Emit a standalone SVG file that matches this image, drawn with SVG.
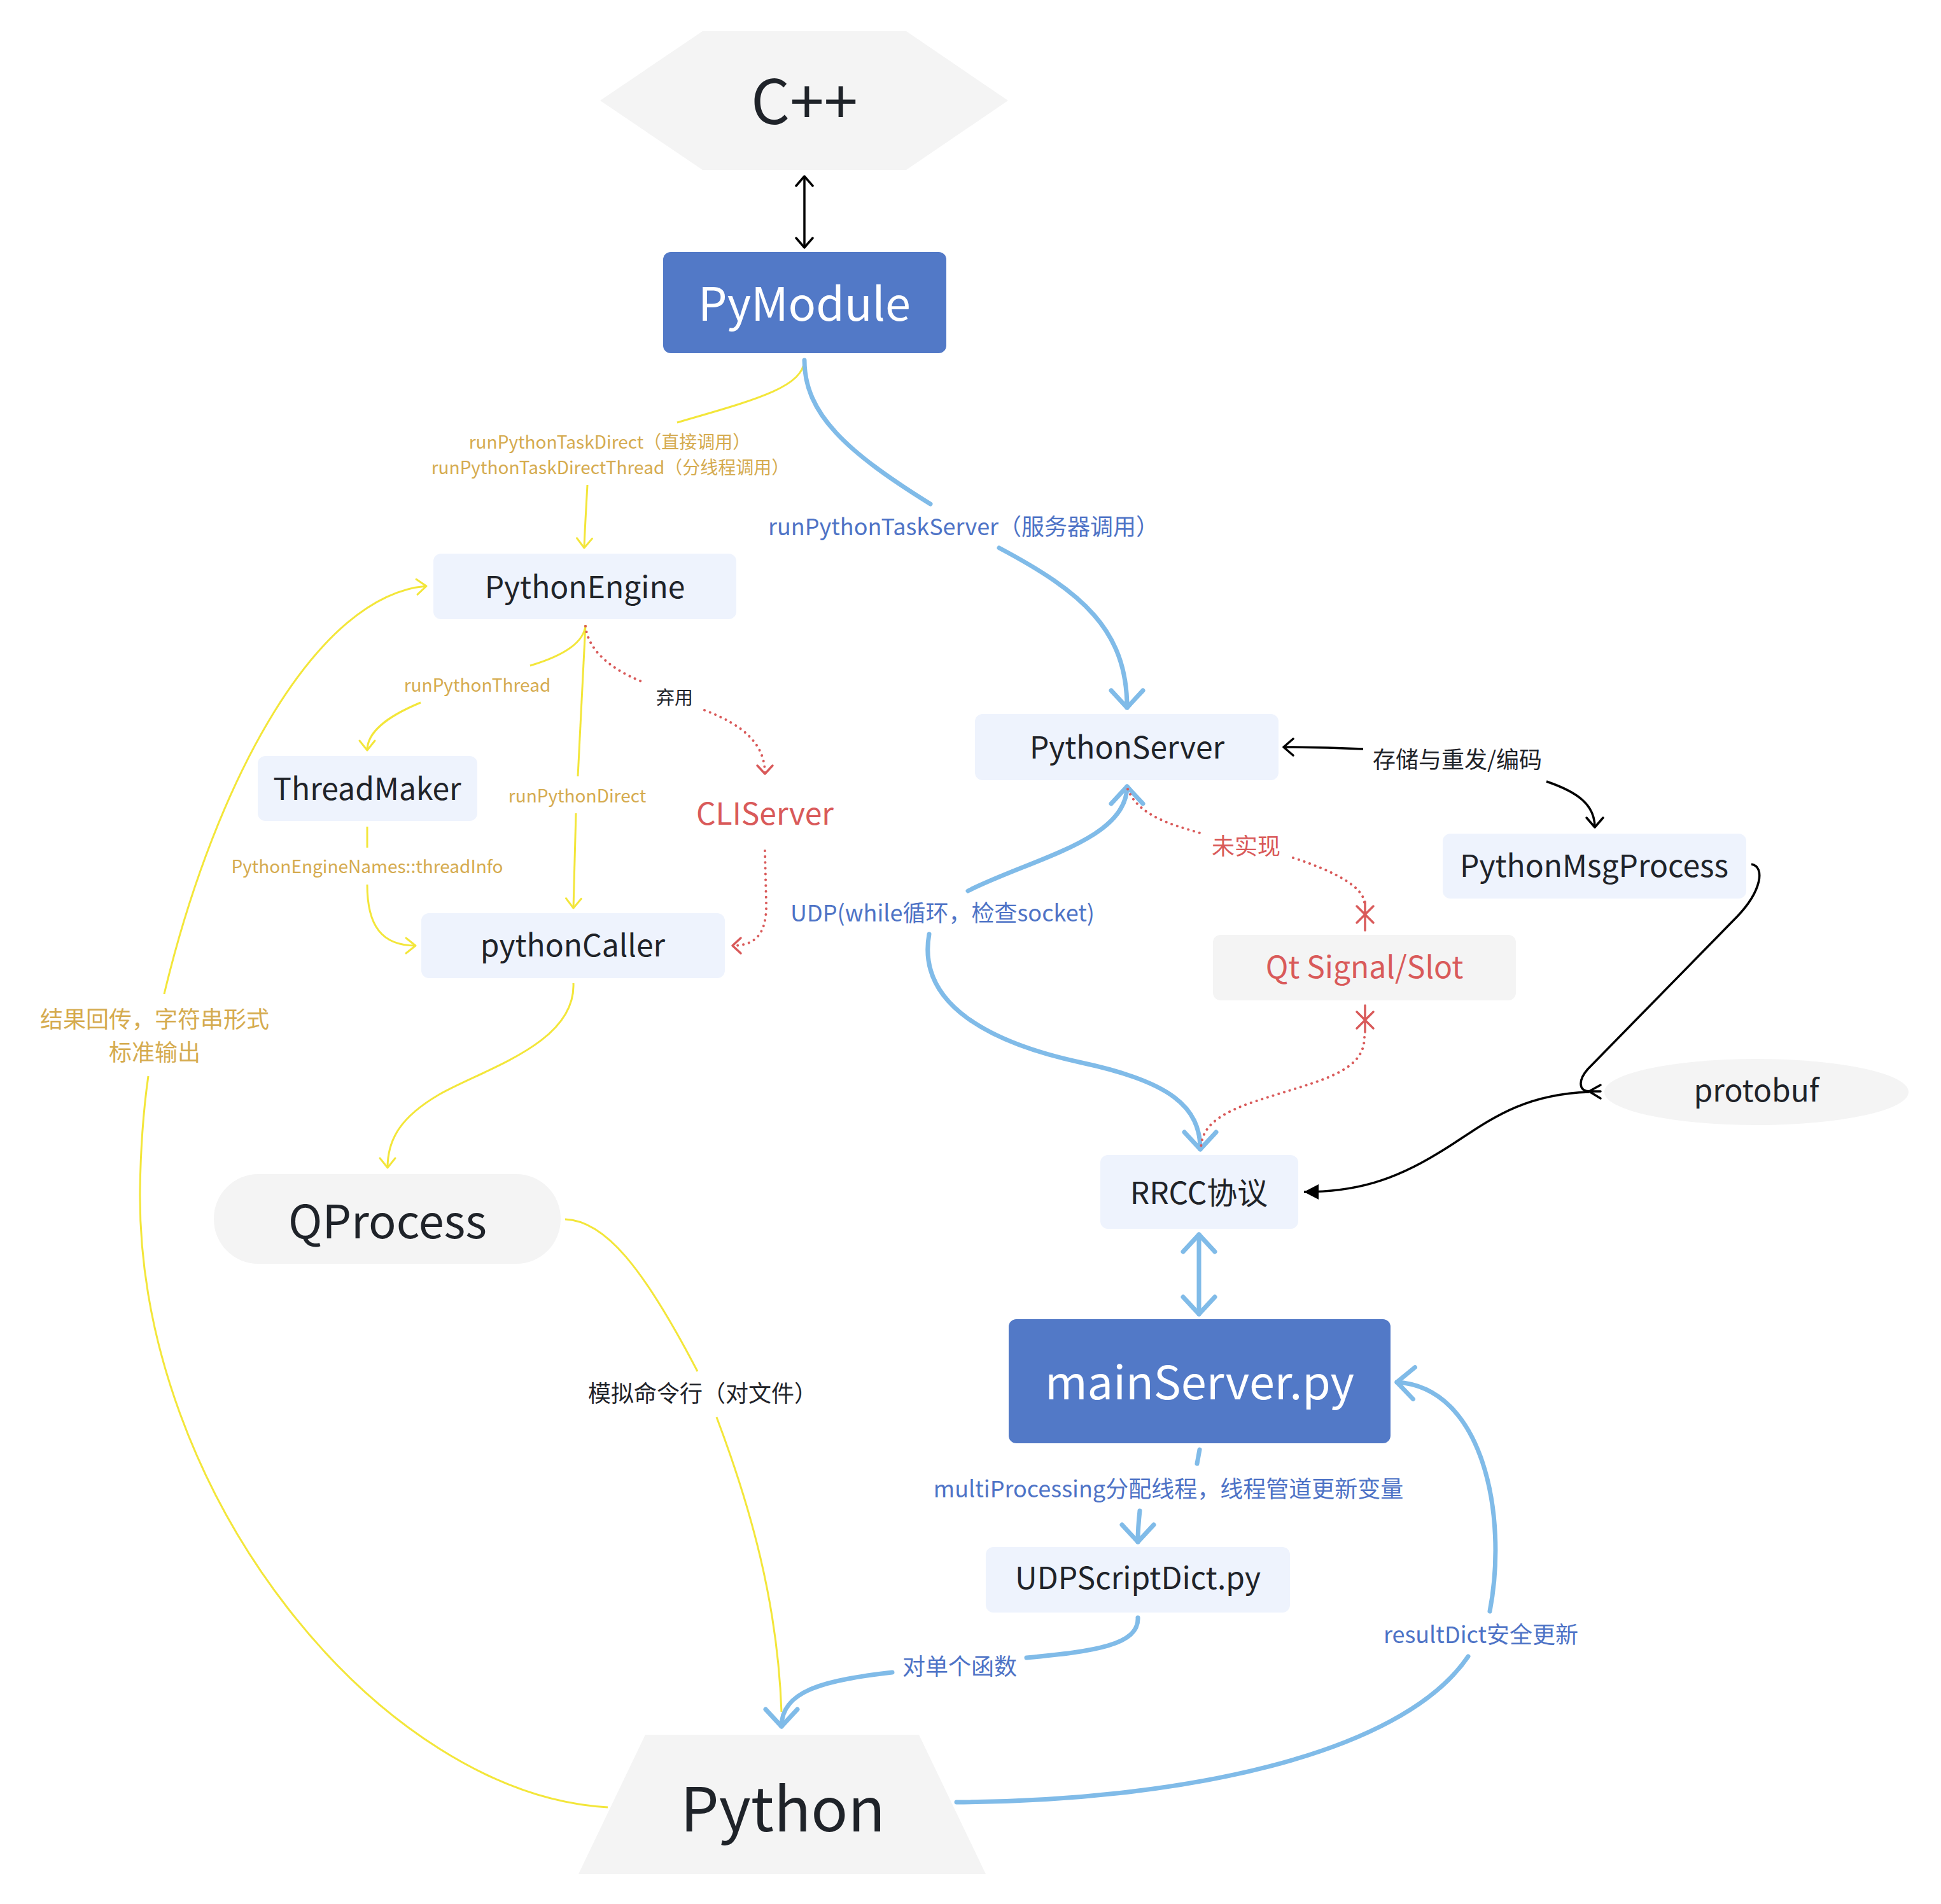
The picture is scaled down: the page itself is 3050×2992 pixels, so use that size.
<svg xmlns="http://www.w3.org/2000/svg" width="3050" height="2992" viewBox="0 0 3050 2992">
<style>
.t{font-family:"Noto Sans CJK SC","Noto Sans","Liberation Sans",sans-serif;text-anchor:middle}
.nl{fill:#eef3fd}
.nd{fill:#5279c7}
.ng{fill:#f4f4f4}
.tn{font-size:48px;fill:#1f2329}
.tw{font-size:72px;fill:#ffffff}
.tb{fill:#1f2329}
.gold{fill:#d5ab4f;font-size:28px}
.gold2{fill:#d5ab4f;font-size:36px}
.blu{fill:#4e73c6;font-size:36px}
.blk{fill:#1f2329}
.red{fill:#d95a5a}
.y{stroke:#f3e63a;stroke-width:3;fill:none}
.b{stroke:#80bbe8;stroke-width:7;fill:none;stroke-linecap:round}
.k{stroke:#000;stroke-width:3.5;fill:none}
.r{stroke:#d95a5a;stroke-width:4;fill:none;stroke-dasharray:0.1 9;stroke-linecap:round}
.rs{stroke:#d95a5a;stroke-width:3.5;fill:none;stroke-linecap:round}
</style>
<defs>
<marker id="ay" markerUnits="userSpaceOnUse" viewBox="-30 -30 60 60" markerWidth="60" markerHeight="60" refX="0" refY="0" orient="auto-start-reverse" overflow="visible"><path d="M-15,-12 L0,0 L-15,12" fill="none" stroke="#f3e63a" stroke-width="3" stroke-linecap="round" stroke-linejoin="round"/></marker>
<marker id="ab" markerUnits="userSpaceOnUse" viewBox="-40 -40 80 80" markerWidth="80" markerHeight="80" refX="0" refY="0" orient="auto-start-reverse" overflow="visible"><path d="M-27,-25 L0,0 L-27,25" fill="none" stroke="#80bbe8" stroke-width="7" stroke-linecap="round" stroke-linejoin="round"/></marker>
<marker id="ak" markerUnits="userSpaceOnUse" viewBox="-30 -30 60 60" markerWidth="60" markerHeight="60" refX="0" refY="0" orient="auto-start-reverse" overflow="visible"><path d="M-15,-13 L0,0 L-15,13" fill="none" stroke="#000" stroke-width="3.5" stroke-linecap="round" stroke-linejoin="round"/></marker>
<marker id="akf" markerUnits="userSpaceOnUse" viewBox="-30 -30 60 60" markerWidth="60" markerHeight="60" refX="0" refY="0" orient="auto" overflow="visible"><path d="M-23,-12 L0,0 L-23,12 Z" fill="#000"/></marker>
<marker id="ar" markerUnits="userSpaceOnUse" viewBox="-30 -30 60 60" markerWidth="60" markerHeight="60" refX="0" refY="0" orient="auto" overflow="visible"><path d="M-13,-12 L0,0 L-13,12" fill="none" stroke="#d95a5a" stroke-width="3.5" stroke-linecap="round" stroke-linejoin="round"/></marker>
</defs>
<rect width="3050" height="2992" fill="#ffffff"/>

<g id="connectors">
  <!-- C++ <-> PyModule -->
  <path class="k" d="M1264,277 L1264,389" marker-start="url(#ak)" marker-end="url(#ak)"/>
  <!-- PyModule -> PythonEngine -->
  <path class="y" d="M1264,566 C1262,610 1180,630 1064,664"/>
  <path class="y" d="M923,762 C921,800 919,830 918,861" marker-end="url(#ay)"/>
  <!-- PyModule -> PythonServer -->
  <path class="b" d="M1264,566 C1264,650 1330,710 1462,792"/>
  <path class="b" d="M1570,861 C1700,930 1771,990 1771,1112" marker-end="url(#ab)"/>
  <!-- PythonEngine -> ThreadMaker -->
  <path class="y" d="M920,982 C918,1012 880,1032 833,1046"/>
  <path class="y" d="M661,1104 C608,1126 577,1150 577,1179" marker-end="url(#ay)"/>
  <!-- PythonEngine -> pythonCaller -->
  <path class="y" d="M920,982 L908,1220"/>
  <path class="y" d="M905,1278 L901,1427" marker-end="url(#ay)"/>
  <!-- PythonEngine -> CLIServer -->
  <path class="r" d="M920,984 C925,1030 975,1058 1011,1072"/>
  <path class="r" d="M1107,1116 C1170,1140 1202,1170 1202,1216" marker-end="url(#ar)"/>
  <!-- ThreadMaker -> pythonCaller -->
  <path class="y" d="M577,1299 L577,1332"/>
  <path class="y" d="M577,1390 C577,1455 600,1486 653,1486" marker-end="url(#ay)"/>
  <!-- CLIServer -> pythonCaller -->
  <path class="r" d="M1202,1337 L1204,1420 C1205,1470 1185,1486 1151,1486" marker-end="url(#ar)"/>
  <!-- pythonCaller -> QProcess -->
  <path class="y" d="M901,1545 C905,1640 760,1680 690,1720 C630,1755 609,1790 609,1835" marker-end="url(#ay)"/>
  <!-- QProcess -> Python -->
  <path class="y" d="M888,1916 C950,1918 1010,1990 1096,2155"/>
  <path class="y" d="M1126,2227 C1180,2370 1222,2520 1228,2690"/>
  <!-- Python -> PythonEngine -->
  <path class="y" d="M955,2840 C600,2820 215,2350 220,1870 C221,1800 226,1740 233,1691"/>
  <path class="y" d="M258,1562 C340,1220 500,935 670,921" marker-end="url(#ay)"/>
  <!-- PythonServer <-> RRCC -->
  <path class="b" d="M1771,1236 C1771,1320 1620,1350 1521,1400" marker-start="url(#ab)"/>
  <path class="b" d="M1460,1468 C1440,1580 1560,1640 1700,1670 C1840,1700 1886,1740 1886,1806" marker-end="url(#ab)"/>
  <!-- PythonServer -> Qt Signal/Slot -->
  <path class="r" d="M1772,1240 C1790,1285 1850,1298 1889,1310"/>
  <path class="r" d="M2032,1348 C2100,1370 2144,1395 2144,1420"/>
  <path class="rs" d="M2145,1417 L2145,1462 M2132,1424 L2158,1450 M2158,1424 L2132,1450"/>
  <!-- Qt Signal/Slot -> RRCC -->
  <path class="rs" d="M2145,1580 L2145,1622 M2132,1590 L2158,1616 M2158,1590 L2132,1616"/>
  <path class="r" d="M2144,1630 C2144,1690 2060,1700 1960,1735 C1900,1757 1887,1780 1887,1808"/>
  <!-- PythonServer <-> PythonMsgProcess -->
  <path class="k" d="M2017,1174 C2060,1174 2100,1175 2142,1177" marker-start="url(#ak)"/>
  <path class="k" d="M2430,1228 C2480,1245 2506,1265 2506,1300" marker-end="url(#ak)"/>
  <!-- PythonMsgProcess -> protobuf -->
  <path class="k" d="M2752,1358 C2774,1362 2768,1400 2730,1440 L2495,1680 C2480,1697 2480,1714 2497,1715"/>
  <path class="k" d="M2515,1705 L2497,1715 L2515,1726 M2497,1715 L2515,1715" stroke-linecap="round" stroke-linejoin="round"/>
  <!-- protobuf -> RRCC -->
  <path class="k" d="M2497,1716 C2380,1720 2330,1770 2260,1812 C2190,1855 2130,1873 2049,1873" marker-end="url(#akf)"/>
  <!-- RRCC <-> mainServer -->
  <path class="b" d="M1884,1940 L1884,2065" marker-start="url(#ab)" marker-end="url(#ab)"/>
  <!-- mainServer -> UDPScriptDict -->
  <path class="b" d="M1885,2278 L1881,2300"/>
  <path class="b" d="M1791,2374 C1789,2392 1788,2405 1788,2423" marker-end="url(#ab)"/>
  <!-- UDPScriptDict -> Python -->
  <path class="b" d="M1788,2542 C1790,2585 1720,2595 1613,2605"/>
  <path class="b" d="M1402,2628 C1300,2640 1228,2655 1228,2713" marker-end="url(#ab)"/>
  <!-- Python -> mainServer -->
  <path class="b" d="M1503,2832 C1850,2830 2200,2760 2307,2603"/>
  <path class="b" d="M2341,2532 C2370,2380 2330,2180 2195,2172" marker-end="url(#ab)"/>

  <!-- labels -->
  <text class="t gold" x="958" y="705">runPythonTaskDirect（直接调用）</text>
  <text class="t gold" x="959" y="745">runPythonTaskDirectThread（分线程调用）</text>
  <text class="t blu" x="1514" y="841">runPythonTaskServer（服务器调用）</text>
  <text class="t gold" x="750" y="1087">runPythonThread</text>
  <text class="t gold" x="907" y="1261">runPythonDirect</text>
  <text class="t blk" x="1060" y="1107" font-size="29">弃用</text>
  <text class="t gold" x="577" y="1372">PythonEngineNames::threadInfo</text>
  <text class="t gold2" x="243" y="1615">结果回传，字符串形式</text>
  <text class="t gold2" x="243" y="1667">标准输出</text>
  <text class="t blk" x="1104" y="2203" font-size="36">模拟命令行（对文件）</text>
  <text class="t blu" x="1481" y="1448">UDP(while循环，检查socket)</text>
  <text class="t red" x="1958" y="1343" font-size="36">未实现</text>
  <text class="t blk" x="2290" y="1207" font-size="36">存储与重发/编码</text>
  <text class="t blu" x="1836" y="2353">multiProcessing分配线程，线程管道更新变量</text>
  <text class="t blu" x="1508" y="2632">对单个函数</text>
  <text class="t blu" x="2327" y="2582">resultDict安全更新</text>
</g>

<g id="node-cpp">
  <polygon class="ng" points="943,158 1104,49 1424,49 1584,158 1424,267 1104,267"/>
  <text class="t tb" x="1264" y="195" font-size="96">C++</text>
</g>
<g id="node-pymodule">
  <rect class="nd" x="1042" y="396" width="445" height="159" rx="12"/>
  <text class="t tw" x="1264" y="504">PyModule</text>
</g>
<g id="node-pythonengine">
  <rect class="nl" x="681" y="870" width="476" height="103" rx="12"/>
  <text class="t tn" x="919" y="940">PythonEngine</text>
</g>
<g id="node-threadmaker">
  <rect class="nl" x="405" y="1188" width="345" height="102" rx="12"/>
  <text class="t tn" x="577" y="1257">ThreadMaker</text>
</g>
<g id="node-pythoncaller">
  <rect class="nl" x="662" y="1435" width="477" height="102" rx="12"/>
  <text class="t tn" x="900" y="1503">pythonCaller</text>
</g>
<g id="node-cliserver">
  <text class="t red" x="1202" y="1296" font-size="48">CLIServer</text>
</g>
<g id="node-pythonserver">
  <rect class="nl" x="1532" y="1122" width="477" height="104" rx="12"/>
  <text class="t tn" x="1771" y="1192">PythonServer</text>
</g>
<g id="node-pythonmsgprocess">
  <rect class="nl" x="2267" y="1310" width="477" height="102" rx="12"/>
  <text class="t tn" x="2505" y="1378">PythonMsgProcess</text>
</g>
<g id="node-qtsignalslot">
  <rect class="ng" x="1906" y="1469" width="476" height="103" rx="12"/>
  <text class="t red" x="2144" y="1537" font-size="48">Qt Signal/Slot</text>
</g>
<g id="node-protobuf">
  <ellipse class="ng" cx="2760" cy="1716" rx="239" ry="52"/>
  <text class="t tn" x="2760" y="1731">protobuf</text>
</g>
<g id="node-rrcc">
  <rect class="nl" x="1729" y="1815" width="311" height="116" rx="12"/>
  <text class="t tn" x="1884" y="1892">RRCC协议</text>
</g>
<g id="node-mainserver">
  <rect class="nd" x="1585" y="2073" width="600" height="195" rx="12"/>
  <text class="t tw" x="1885" y="2199">mainServer.py</text>
</g>
<g id="node-udpscriptdict">
  <rect class="nl" x="1549" y="2431" width="478" height="103" rx="12"/>
  <text class="t tn" x="1788" y="2497">UDPScriptDict.py</text>
</g>
<g id="node-qprocess">
  <rect class="ng" x="336" y="1845" width="545" height="141" rx="70"/>
  <text class="t tb" x="609" y="1946" font-size="72">QProcess</text>
</g>
<g id="node-python">
  <polygon class="ng" points="1014,2726 1444,2726 1549,2945 909,2945"/>
  <text class="t tb" x="1230" y="2878" font-size="96">Python</text>
</g>
</svg>
